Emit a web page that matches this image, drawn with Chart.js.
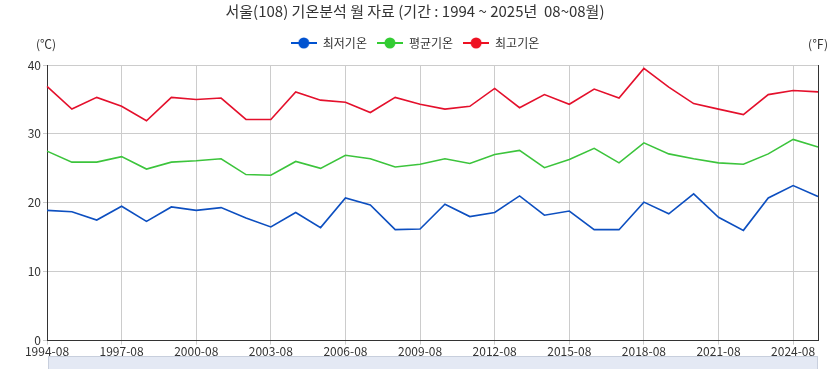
<!DOCTYPE html>
<html>
<head>
<meta charset="utf-8">
<script src="https://cdn.jsdelivr.net/npm/chart.js@4"></script>
<style>
    body { margin: 0; background: #fff; }
    #wrap { position: relative; width: 830px; height: 369px; }
    #nav { position: absolute; left: 48px; top: 356px; width: 770px; height: 14px;
           background: #e4e9f4; border: 1px solid #c8cfdd; box-sizing: border-box; }
</style>
</head>
<body>
<div id="wrap">
    <canvas id="lineChart" width="830" height="359"></canvas>
    <div id="nav"></div>
</div>
<script>
const years = [];
for (let y = 1994; y <= 2025; y++) years.push(y + '-08');

const minTemp = [18.9, 18.7, 17.5, 19.5, 17.3, 19.4, 18.9, 19.3, 17.8, 16.5,
                 18.6, 16.4, 20.7, 19.7, 16.1, 16.2, 19.8, 18.0, 18.6, 21.0,
                 18.2, 18.8, 16.1, 16.1, 20.1, 18.4, 21.3, 17.9, 16.0, 20.7,
                 22.5, 20.9];
const avgTemp = [27.5, 25.9, 25.9, 26.7, 24.9, 25.9, 26.1, 26.4, 24.1, 24.0,
                 26.0, 25.0, 26.9, 26.4, 25.2, 25.6, 26.4, 25.7, 27.0, 27.6,
                 25.1, 26.3, 27.9, 25.8, 28.7, 27.1, 26.4, 25.8, 25.6, 27.1,
                 29.2, 28.1];
const maxTemp = [36.9, 33.6, 35.3, 34.0, 31.9, 35.3, 35.0, 35.2, 32.1, 32.1,
                 36.1, 34.9, 34.6, 33.1, 35.3, 34.3, 33.6, 34.0, 36.6, 33.8,
                 35.7, 34.3, 36.5, 35.2, 39.5, 36.8, 34.4, 33.6, 32.8, 35.7,
                 36.3, 36.1];

const FONT = "'Noto Sans CJK KR', 'Noto Sans', sans-serif";

// legend marker: short line with a dot in the middle
function marker(color) {
    const c = document.createElement('canvas');
    c.width = 26; c.height = 12;
    const ctx = c.getContext('2d');
    ctx.strokeStyle = color; ctx.lineWidth = 2;
    ctx.beginPath(); ctx.moveTo(0, 6); ctx.lineTo(26, 6); ctx.stroke();
    ctx.fillStyle = color;
    ctx.beginPath(); ctx.arc(13, 6, 5.5, 0, Math.PI * 2); ctx.fill();
    return c;
}

const unitLabels = {
    id: 'unitLabels',
    afterDraw(chart) {
        const ctx = chart.ctx;
        ctx.save();
        ctx.font = '12px ' + FONT;
        ctx.fillStyle = '#333';
        ctx.textBaseline = 'middle';
        ctx.textAlign = 'center';
        ctx.fillText('(℃)', 46, 44);
        ctx.fillText('(℉)', 818, 44);
        ctx.restore();
    }
};

// a bit more room under the legend
const legendGap = {
    id: 'legendGap',
    beforeUpdate(chart) {
        const lg = chart.legend;
        if (lg && !lg._gapPatched) {
            const fit = lg.fit;
            lg.fit = function () { fit.call(this); this.height += 6; };
            lg._gapPatched = true;
        }
    }
};

const series = [
    { label: '최저기온', data: minTemp, color: '#0d4fc0', dot: '#0052d0' },
    { label: '평균기온', data: avgTemp, color: '#3cc43c', dot: '#33cc33' },
    { label: '최고기온', data: maxTemp, color: '#e4102c', dot: '#ee1122' }
];

new Chart(document.getElementById('lineChart'), {
    type: 'line',
    data: {
        labels: years,
        datasets: series.map(s => ({
            label: s.label,
            data: s.data,
            borderColor: s.color,
            backgroundColor: s.dot,
            borderWidth: 1.6,
            pointRadius: 0,
            tension: 0,
            pointStyle: marker(s.dot),
            yAxisID: 'y'
        }))
    },
    options: {
        responsive: false,
        animation: false,
        layout: { padding: 0 },
        plugins: {
            title: {
                display: true,
                text: '서울(108) 기온분석 월 자료 (기간 : 1994 ~ 2025년  08~08월)',
                color: '#333',
                font: { family: FONT, size: 15, weight: 'normal' },
                padding: { top: 2, bottom: 7 }
            },
            legend: {
                labels: {
                    usePointStyle: true,
                    pointStyleWidth: 26,
                    color: '#333',
                    font: { family: FONT, size: 12 },
                    padding: 10,
                    boxHeight: 12
                }
            },
            tooltip: { enabled: false }
        },
        scales: {
            x: {
                ticks: {
                    autoSkip: false,
                    maxRotation: 0,
                    color: '#333',
                    font: { family: FONT, size: 12 },
                    padding: 0,
                    callback: (v, i) => i % 3 === 0 ? years[i] : ''
                },
                grid: {
                    color: ctx => ctx.index % 3 === 0 ? '#cccccc' : 'rgba(0,0,0,0)',
                    tickLength: 4
                },
                border: { color: '#333' }
            },
            y: {
                min: 0,
                max: 40,
                ticks: {
                    stepSize: 10,
                    color: '#333',
                    font: { family: FONT, size: 12 },
                    padding: 2
                },
                grid: { color: '#cccccc', tickLength: 4 },
                border: { color: '#333' },
                afterFit: axis => { axis.width = 47; }
            },
            y2: {
                position: 'right',
                min: 0,
                max: 40,
                ticks: { display: false },
                grid: { drawOnChartArea: false, drawTicks: false },
                border: { color: '#333' },
                afterFit: axis => { axis.width = 12; }
            }
        }
    },
    plugins: [unitLabels, legendGap]
});
</script>
</body>
</html>
